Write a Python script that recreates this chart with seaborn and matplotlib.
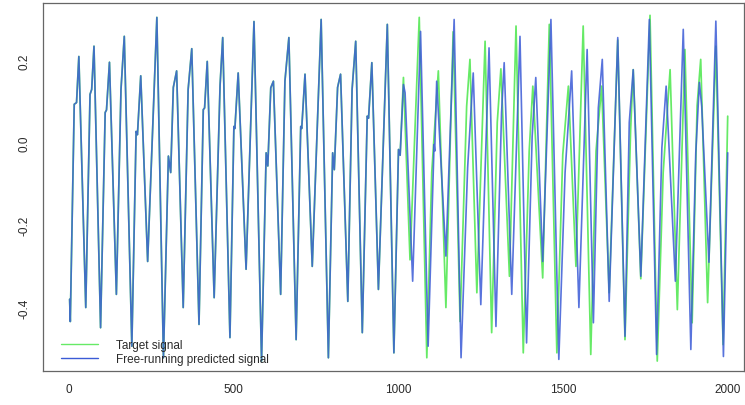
import numpy as np
import pandas as pd
import matplotlib
matplotlib.use("Agg")
import matplotlib.pyplot as plt
from matplotlib.lines import Line2D
import seaborn as sns

# ---- data (time step, value of key points) ----
shared_t = [1, 3, 15, 22, 29, 50, 63, 68, 75, 95, 109, 113, 122, 143, 157, 167,
            190, 203, 207, 217, 238, 266, 286, 301, 308, 316, 326, 346, 361, 372,
            394, 407, 411, 419, 440, 458, 466, 488, 500, 503, 513, 537, 561, 584,
            598, 603, 612, 620, 642, 655, 667, 689, 703, 706, 716, 738, 765, 787,
            800, 805, 815, 824, 846, 859, 870, 890, 905, 909, 919, 939, 966, 986,
            1000, 1005]
shared_y = [-0.38, -0.434, 0.094, 0.098, 0.21, -0.40, 0.118, 0.13, 0.235, -0.449,
            0.074, 0.08, 0.196, -0.368, 0.13, 0.259, -0.494, 0.028, 0.02, 0.163,
            -0.288, 0.305, -0.522, -0.032, -0.072, 0.135, 0.175, -0.40, 0.13, 0.229,
            -0.441, 0.081, 0.085, 0.198, -0.376, 0.14, 0.256, -0.473, 0.04, 0.035,
            0.17, -0.307, 0.295, -0.53, -0.024, -0.056, 0.134, 0.15, -0.368, 0.15,
            0.256, -0.478, 0.04, 0.035, 0.167, -0.30, 0.30, -0.522, -0.024, -0.065,
            0.135, 0.167, -0.385, 0.13, 0.247, -0.461, 0.065, 0.06, 0.195, -0.356,
            0.288, -0.51, -0.016, -0.03]

target_t = [1015, 1035, 1063, 1086, 1101, 1121, 1144, 1166, 1187, 1207, 1217,
            1238, 1263, 1283, 1300, 1311, 1337, 1357, 1379, 1397, 1408, 1438, 1458,
            1481, 1499, 1516, 1539, 1561, 1584, 1600, 1617, 1640, 1666, 1688, 1705,
            1713, 1736, 1764, 1786, 1804, 1825, 1847, 1870, 1892, 1907, 1918, 1939,
            1964, 1986, 2000]
target_y = [0.159, -0.284, 0.305, -0.522, -0.072, 0.175, -0.40, 0.27, -0.434, 0.089,
            0.203, -0.364, 0.247, -0.461, 0.05, 0.18, -0.324, 0.284, -0.51, -0.02,
            0.138, -0.328, 0.288, -0.51, -0.028, 0.138, -0.30, 0.284, -0.514, -0.02,
            0.138, -0.364, 0.25, -0.478, 0.03, 0.178, -0.33, 0.31, -0.53, -0.072,
            0.178, -0.405, 0.227, -0.437, 0.09, 0.203, -0.388, 0.235, -0.49, 0.065]

pred_t = [1015, 1020, 1043, 1067, 1090, 1108, 1110, 1116, 1144, 1169, 1190, 1210,
          1227, 1250, 1275, 1296, 1313, 1321, 1344, 1369, 1389, 1406, 1417, 1438,
          1463, 1487, 1506, 1526, 1548, 1573, 1592, 1607, 1619, 1640, 1666, 1688,
          1701, 1713, 1736, 1762, 1784, 1800, 1813, 1841, 1865, 1888, 1903, 1914,
          1921, 1943, 1964, 1987, 2000]
pred_y = [0.142, 0.122, -0.336, 0.271, -0.494, -0.004, -0.02, 0.15, -0.275, 0.30,
          -0.522, -0.06, 0.17, -0.393, 0.231, -0.446, 0.073, 0.195, -0.368, 0.259,
          -0.486, 0.016, 0.159, -0.288, 0.30, -0.526, -0.072, 0.175, -0.40, 0.227,
          -0.437, 0.085, 0.203, -0.385, 0.256, -0.47, 0.05, 0.178, -0.324, 0.30,
          -0.514, -0.012, 0.138, -0.336, 0.276, -0.502, -0.024, 0.147, 0.089, -0.29,
          0.296, -0.519, -0.024]

x_ticks = [0, 500, 1000, 1500, 2000]
y_ticks = [-0.4, -0.2, 0.0, 0.2]
y_ticklabels = ["-0.4", "-0.2", "0.0", "0.2"]
legend_labels = ["Target signal", "Free-running predicted signal"]

# ---- build tables ----
target_df = pd.DataFrame({"t": shared_t + target_t, "y": shared_y + target_y})
pred_df = pd.DataFrame({"t": shared_t + pred_t, "y": shared_y + pred_y})

sns.set_style("white")
plt.rcParams["font.family"] = ["Liberation Sans", "DejaVu Sans"]

GREEN = "#66ea66"
BLUE = "#3b5bd6"

fig = plt.figure(figsize=(7.45, 4.06), dpi=100)
ax = fig.add_axes([42.7 / 745, 1 - 371.5 / 406, (744 - 42.7) / 745, (371.5 - 4) / 406])

sns.lineplot(data=target_df, x="t", y="y", ax=ax, color=GREEN, linewidth=1.25,
             estimator=None, sort=False, legend=False)
sns.lineplot(data=pred_df, x="t", y="y", ax=ax, color=BLUE, linewidth=1.2,
             alpha=0.85, estimator=None, sort=False, legend=False)

ax.set_xlim(-80.8, 2049.5)
ax.set_ylim(-0.553, 0.340)
ax.set_xlabel("")
ax.set_ylabel("")
ax.set_xticks(x_ticks)
ax.set_xticklabels([str(v) for v in x_ticks])
ax.set_yticks(y_ticks)
ax.set_yticklabels(y_ticklabels, rotation=90, va="center")

for s in ax.spines.values():
    s.set_visible(True)
    s.set_color("#666666")
    s.set_linewidth(0.9)
ax.tick_params(axis="both", direction="out", length=5, width=0.8, color="#666666",
               labelcolor="#2a2a2a", labelsize=8.5)
ax.tick_params(axis="x", pad=4.3)
ax.tick_params(axis="y", pad=3.5)

handles = [Line2D([0], [0], color=GREEN, lw=1.0), Line2D([0], [0], color=BLUE, lw=1.0)]
fig.legend(handles, legend_labels, loc="upper left",
           bbox_to_anchor=(61 / 745, 1 - 340 / 406), bbox_transform=fig.transFigure,
           frameon=False, fontsize=8.5, handlelength=3.1, handletextpad=1.6,
           labelspacing=0.2, borderpad=0, borderaxespad=0, labelcolor="#2a2a2a")

fig.savefig("out.png", dpi=100)
